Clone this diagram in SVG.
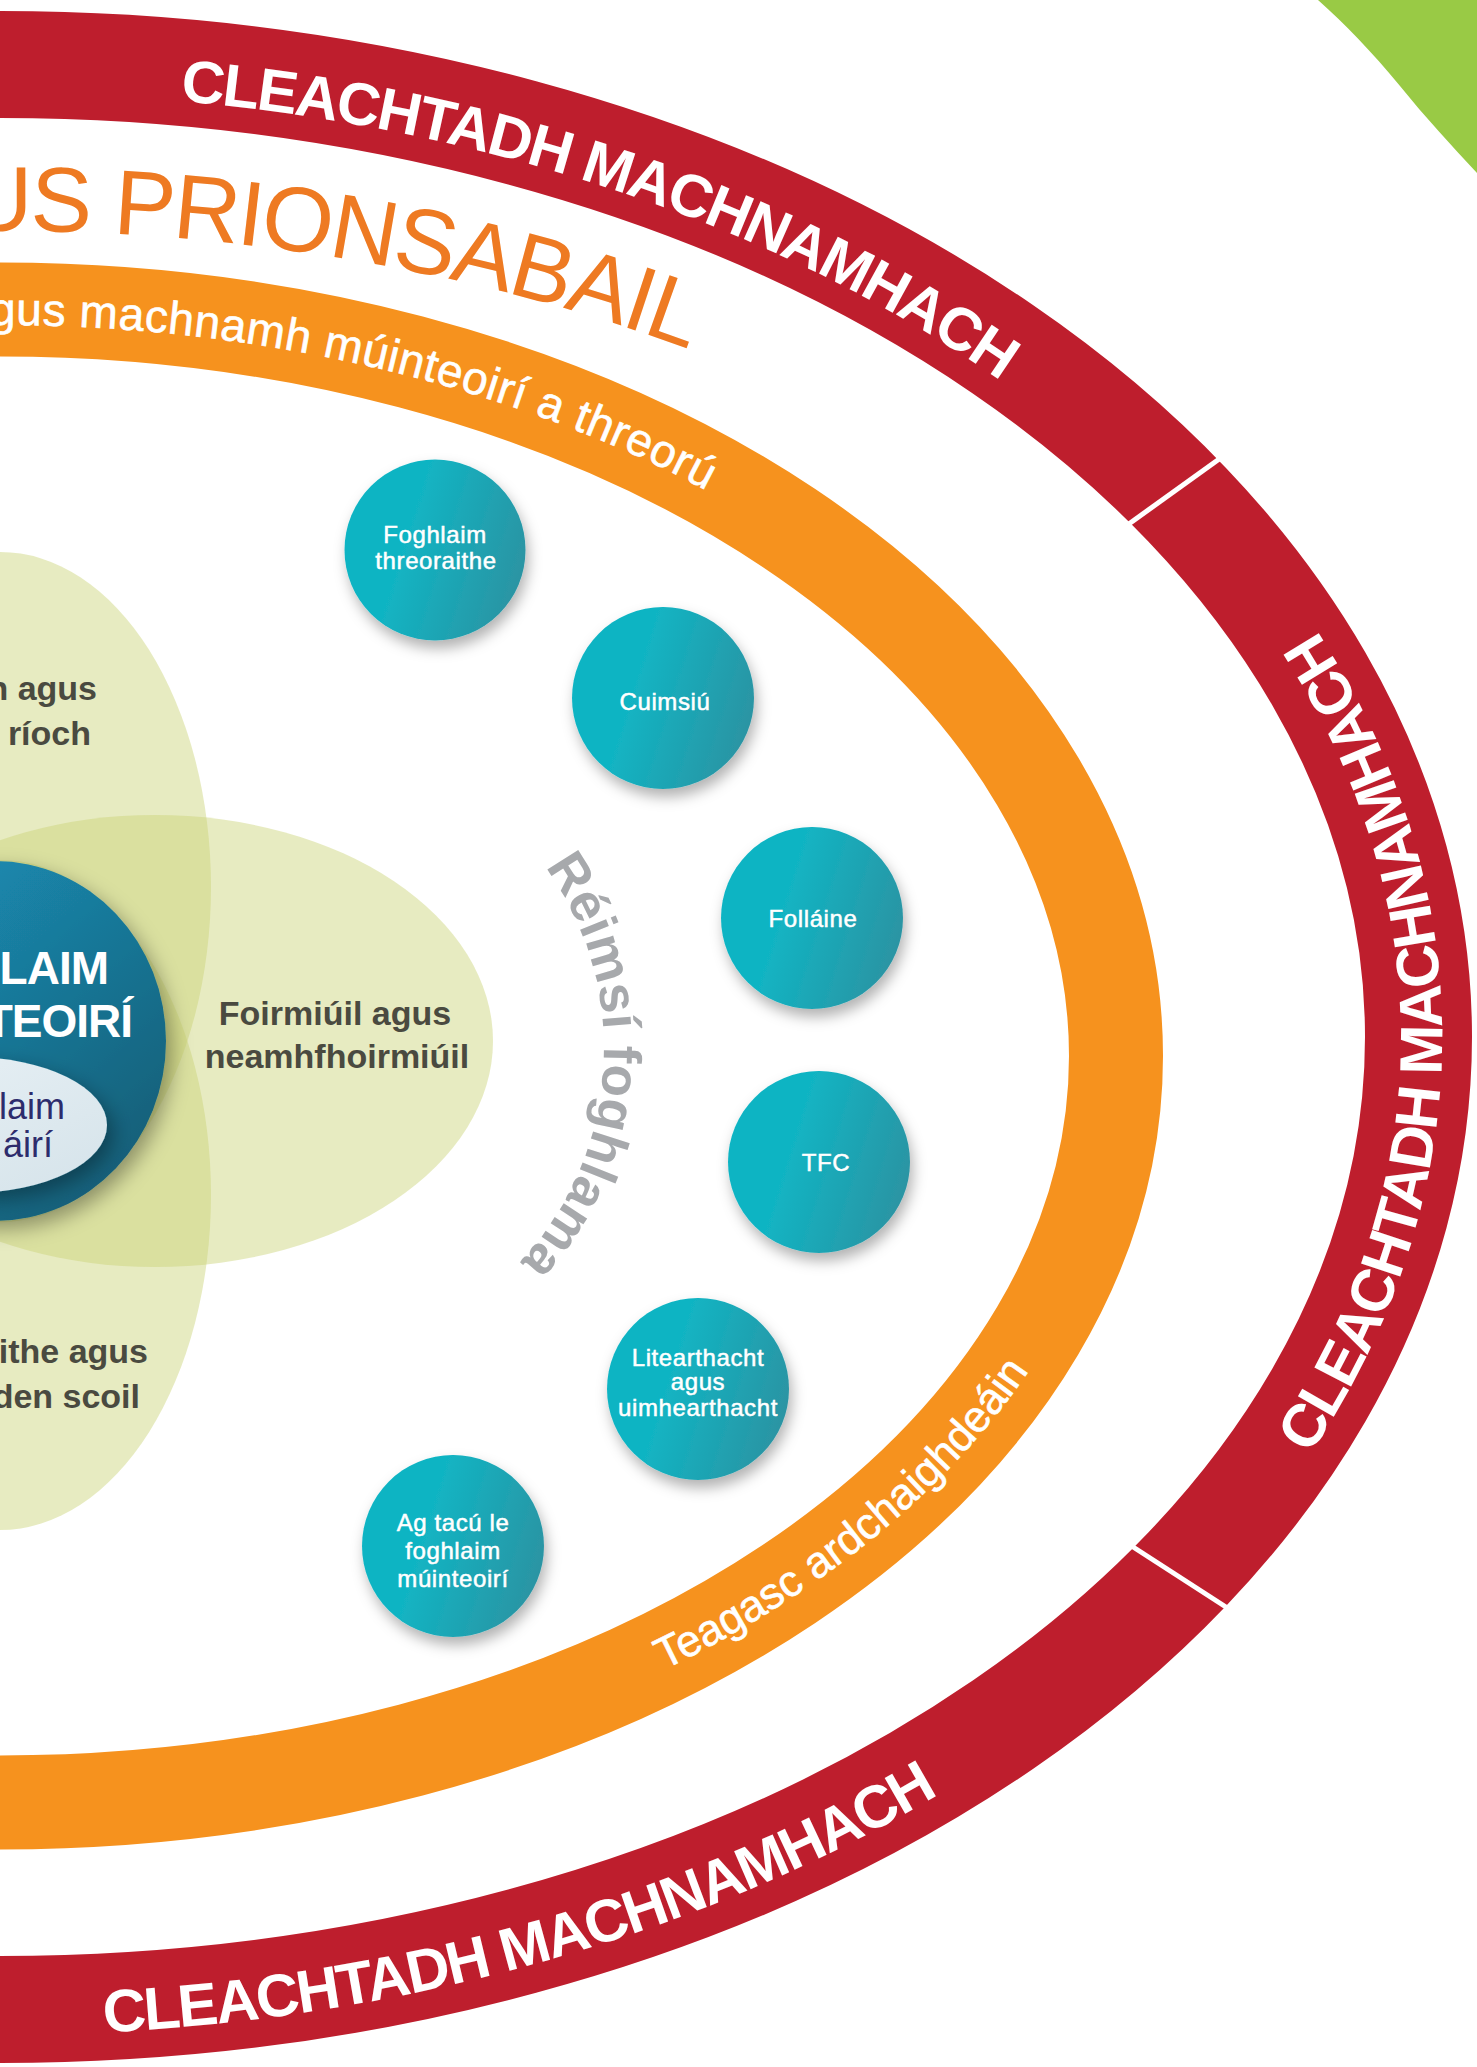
<svg xmlns="http://www.w3.org/2000/svg" width="1477" height="2067" viewBox="0 0 1477 2067">
<style>
.redt{font-family:"Liberation Sans",Arial,sans-serif;font-weight:bold;font-size:60px;fill:#fff;letter-spacing:-2px}
.orgt{font-family:"Liberation Sans",Arial,sans-serif;font-size:46px;fill:#fff;stroke:#fff;stroke-width:0.6px;letter-spacing:0.5px}
.title{font-family:"Liberation Sans",Arial,sans-serif;font-size:92px;fill:#EE7A22;letter-spacing:-2.3px}
.circt{font-family:"Liberation Sans",Arial,sans-serif;font-size:24px;fill:#fff;stroke:#fff;stroke-width:0.5px;text-anchor:middle;letter-spacing:0.6px}
.petalt{font-family:"Liberation Sans",Arial,sans-serif;font-weight:bold;font-size:34px;fill:#4A4A40}
.coret{font-family:"Liberation Sans",Arial,sans-serif;font-weight:bold;font-size:46px;fill:#fff;text-anchor:end;letter-spacing:-1px}
.innert{font-family:"Liberation Sans",Arial,sans-serif;font-size:36px;fill:#2D2C6C;text-anchor:end}
.reim{font-family:"Liberation Sans",Arial,sans-serif;font-weight:bold;font-size:53px;fill:#A7A9AC;letter-spacing:0.3px}
.petal{fill:#C9D275;fill-opacity:0.45}
.circ{fill:url(#gCirc);filter:url(#sh)}
</style>
<defs>
<linearGradient id="gCirc" x1="0.35" y1="0.4" x2="1" y2="0.6">
<stop offset="0" stop-color="#11B4C3"/>
<stop offset="1" stop-color="#2B94A3"/>
</linearGradient>
<linearGradient id="gCore" x1="0.2" y1="0.1" x2="0.9" y2="0.95">
<stop offset="0" stop-color="#1B8CB3"/>
<stop offset="1" stop-color="#155C74"/>
</linearGradient>
<linearGradient id="gInner" x1="0" y1="0" x2="1" y2="1">
<stop offset="0" stop-color="#EAF2F6"/>
<stop offset="1" stop-color="#D5E3EA"/>
</linearGradient>
<filter id="sh" x="-30%" y="-30%" width="160%" height="170%">
<feDropShadow dx="3" dy="8" stdDeviation="7" flood-color="#000" flood-opacity="0.3"/>
</filter>
<filter id="shBig" x="-30%" y="-30%" width="160%" height="170%">
<feDropShadow dx="6" dy="8" stdDeviation="10" flood-color="#000" flood-opacity="0.35"/>
</filter>
<path id="pRedTop" d="M180,101 A1392,944 0 0 1 1344.6,793"/>
<path id="pRedRight" d="M1309.6,1455 A1442,998 0 0 0 1019.6,331.3"/>
<path id="pRedBottom" d="M104,2032.4 A1442,998 0 0 0 1392.8,1295.3"/>
<path id="pOrgTop" d="M-10,325 A1115,731 0 0 1 965.6,690.5"/>
<path id="pOrgBottom" d="M664,1670 A1131,758 0 0 0 1113.8,1187.6"/>
<path id="pTitle" d="M-34,231 A1320,806 0 0 1 1011,519"/>
<path id="pReim" d="M545.2,867 A311,311 0 0 1 399.4,1341.2"/>
</defs>
<rect width="1477" height="2067" fill="#fff"/>
<g id="green-corner">
<path d="M1318,0 C1345,24 1372,52 1400,86 C1425,117 1452,146 1477,173 L1477,0 Z" fill="#99CA45"/>
</g>
<g id="ring-reflective">
<ellipse cx="0" cy="1037" rx="1418.5" ry="972.5" fill="none" stroke="#BE1E2D" stroke-width="107"/>
<line x1="1222" y1="457" x2="1126" y2="526" stroke="#fff" stroke-width="5"/>
<line x1="1130" y1="1545" x2="1229" y2="1609" stroke="#fff" stroke-width="5"/>
<text class="redt"><textPath href="#pRedTop">CLEACHTADH MACHNAMHACH</textPath></text>
<text class="redt"><textPath href="#pRedRight">CLEACHTADH MACHNAMHACH</textPath></text>
<text class="redt"><textPath href="#pRedBottom">CLEACHTADH MACHNAMHACH</textPath></text>
</g>
<g id="title">
<text class="title"><textPath href="#pTitle">US PRIONSABAIL</textPath></text>
</g>
<g id="ring-teaching">
<ellipse cx="0" cy="1056" rx="1116" ry="746.5" fill="none" stroke="#F6921E" stroke-width="94"/>
<text class="orgt"><textPath href="#pOrgTop">gus machnamh múinteoirí a threorú</textPath></text>
<text class="orgt" style="font-size:44px;letter-spacing:0"><textPath href="#pOrgBottom">Teagasc ardchaighdeáin</textPath></text>
</g>
<g id="petals">
<ellipse class="petal" cx="0" cy="887" rx="211" ry="335"/>
<ellipse class="petal" cx="0" cy="1195" rx="211" ry="335"/>
<ellipse class="petal" cx="155" cy="1041" rx="338" ry="226"/>
</g>
<g id="petal-top">
<text class="petalt" x="97" y="700" text-anchor="end">n agus</text>
<text class="petalt" x="91" y="745" text-anchor="end">ríoch</text>
</g>
<g id="petal-right">
<text class="petalt" x="335" y="1025" text-anchor="middle">Foirmiúil agus</text>
<text class="petalt" x="337" y="1068" text-anchor="middle">neamhfhoirmiúil</text>
</g>
<g id="petal-bottom">
<text class="petalt" x="148" y="1363" text-anchor="end">ithe agus</text>
<text class="petalt" x="140" y="1408" text-anchor="end">den scoil</text>
</g>
<g id="core">
<ellipse cx="-5" cy="1041" rx="171" ry="180" fill="url(#gCore)" filter="url(#shBig)"/>
<text class="coret" x="108" y="984">LAIM</text>
<text class="coret" x="132" y="1037">TEOIRÍ</text>
<ellipse cx="-30" cy="1125" rx="137" ry="68" fill="url(#gInner)" filter="url(#shBig)"/>
<text class="innert" x="65" y="1119">laim</text>
<text class="innert" x="53" y="1157">áirí</text>
</g>
<g id="reimsi">
<text class="reim"><textPath href="#pReim">Réimsí foghlama</textPath></text>
</g>
<g id="c-foghlaim-threoraithe">
<circle class="circ" cx="435" cy="550" r="90.5"/>
<text class="circt" x="435" y="543">Foghlaim</text>
<text class="circt" x="436" y="569">threoraithe</text>
</g>
<g id="c-cuimsiu">
<circle class="circ" cx="663" cy="698" r="91"/>
<text class="circt" x="665" y="710">Cuimsiú</text>
</g>
<g id="c-follaine">
<circle class="circ" cx="812" cy="918" r="91"/>
<text class="circt" x="813" y="927">Folláine</text>
</g>
<g id="c-tfc">
<circle class="circ" cx="819" cy="1162" r="91"/>
<text class="circt" x="826" y="1171">TFC</text>
</g>
<g id="c-litearthacht">
<circle class="circ" cx="698" cy="1389" r="91"/>
<text class="circt" x="698" y="1366">Litearthacht</text>
<text class="circt" x="698" y="1390">agus</text>
<text class="circt" x="698" y="1416">uimhearthacht</text>
</g>
<g id="c-ag-tacu">
<circle class="circ" cx="453" cy="1546" r="91"/>
<text class="circt" x="453" y="1531">Ag tacú le</text>
<text class="circt" x="453" y="1559">foghlaim</text>
<text class="circt" x="453" y="1587">múinteoirí</text>
</g>
<g id="connectors"/>
</svg>
